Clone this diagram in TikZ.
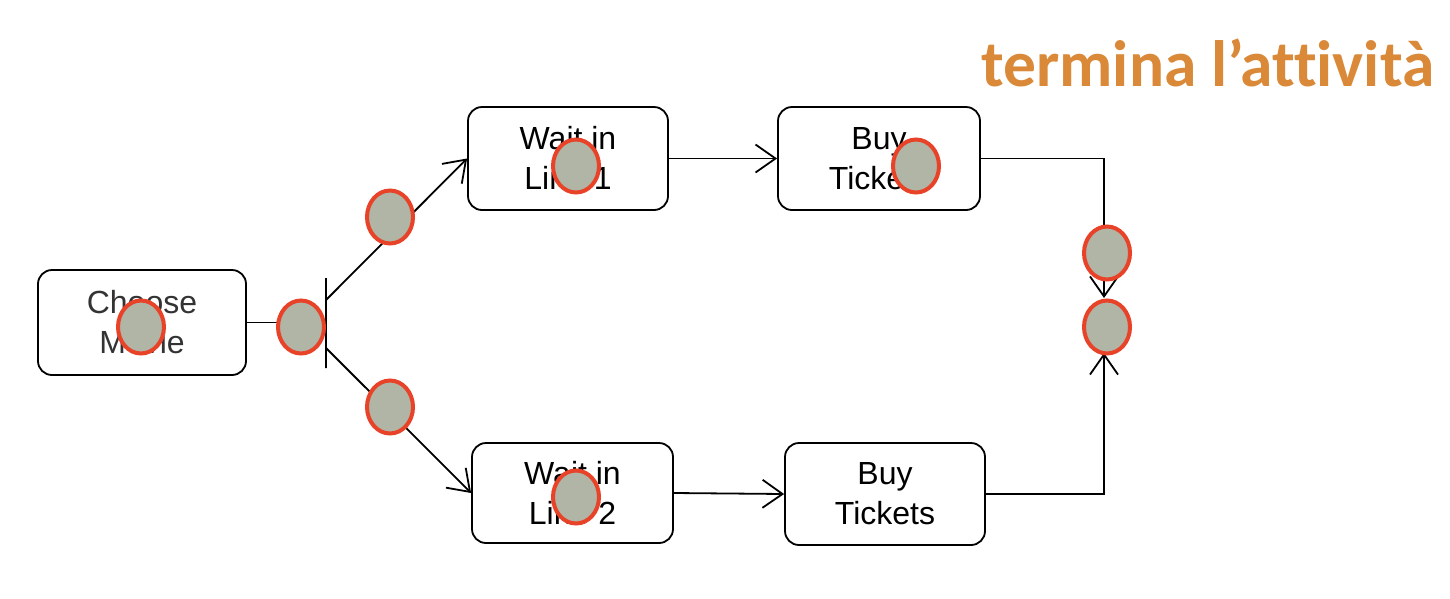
\documentclass[tikz,border=0pt]{standalone}
\usepackage{fontspec}
\setmainfont{Liberation Sans}
\newfontfamily\titlefont[Ligatures=NoCommon]{Carlito}
\usetikzlibrary{shapes.geometric,arrows.meta}
\definecolor{tokfill}{RGB}{176,181,165}
\definecolor{tokred}{RGB}{232,66,40}
\definecolor{titleorange}{RGB}{217,137,56}
\tikzset{
  actbox/.style={draw, line width=1.8pt, rounded corners=14pt, inner sep=0pt,
    align=center, font=\fontsize{32}{40}\selectfont},
  forkbar/.style={draw, line width=1.4pt, inner sep=0pt, minimum width=0pt, minimum height=90pt},
  flow/.style={line width=1.8pt},
  flowarrow/.style={line width=1.8pt, -{Straight Barb[length=20pt,width=28pt,line width=1.8pt]}},
  token/.style={ellipse, draw=tokred, fill=tokfill, line width=4pt, inner sep=0pt,
    minimum width=46pt, minimum height=53pt}
}
\begin{document}
\begin{tikzpicture}[x=1pt,y=-1pt]
\useasboundingbox (0,0) rectangle (1450,598);
\node[anchor=base west, text=titleorange, font=\titlefont\fontsize{65.5}{72}\selectfont\bfseries] (title) at (978,86) {termina l’attività};

\node[actbox, minimum width=208pt, minimum height=105pt, text=black!80] (choose) at (142,322.5) {Choose\\Movie};
\node[actbox, minimum width=200pt, minimum height=103pt] (wait1) at (568,158.5) {Wait in\\Line 1};
\node[actbox, minimum width=202pt, minimum height=103pt] (buy1) at (879,158.5) {Buy\\Tickets};
\node[actbox, minimum width=201pt, minimum height=100pt] (wait2) at (572.5,493) {Wait in\\Line 2};
\node[actbox, minimum width=200pt, minimum height=102pt] (buy2) at (885,494) {Buy\\Tickets};

\node[forkbar] (fork) at (326,323) {};
\coordinate (f1) at (326,300);
\coordinate (f2) at (326,348);
\coordinate (j1) at (1104,298);
\coordinate (j2) at (1104,353);

\draw[flow] (choose.east) -- (choose.east -| fork);
\draw[flowarrow] (f1) -- (wait1.west);
\draw[flowarrow] (f2) -- (wait2.west);
\draw[flowarrow] (wait1.east) -- (buy1.west);
\draw[flowarrow] (wait2.east) -- (buy2.west);
\draw[flowarrow] (buy1.east) -| (j1);
\draw[flowarrow] (buy2.east) -| (j2);

\node[token] (t1) at (141,327) {};
\node[token] (t2) at (301,327) {};
\node[token] (t3) at (390,217) {};
\node[token] (t4) at (390,407) {};
\node[token] (t5) at (576,166) {};
\node[token] (t6) at (916,166) {};
\node[token] (t7) at (576,497) {};
\node[token] (t8) at (1107,253) {};
\node[token] (t9) at (1107,327) {};
\end{tikzpicture}
\end{document}
